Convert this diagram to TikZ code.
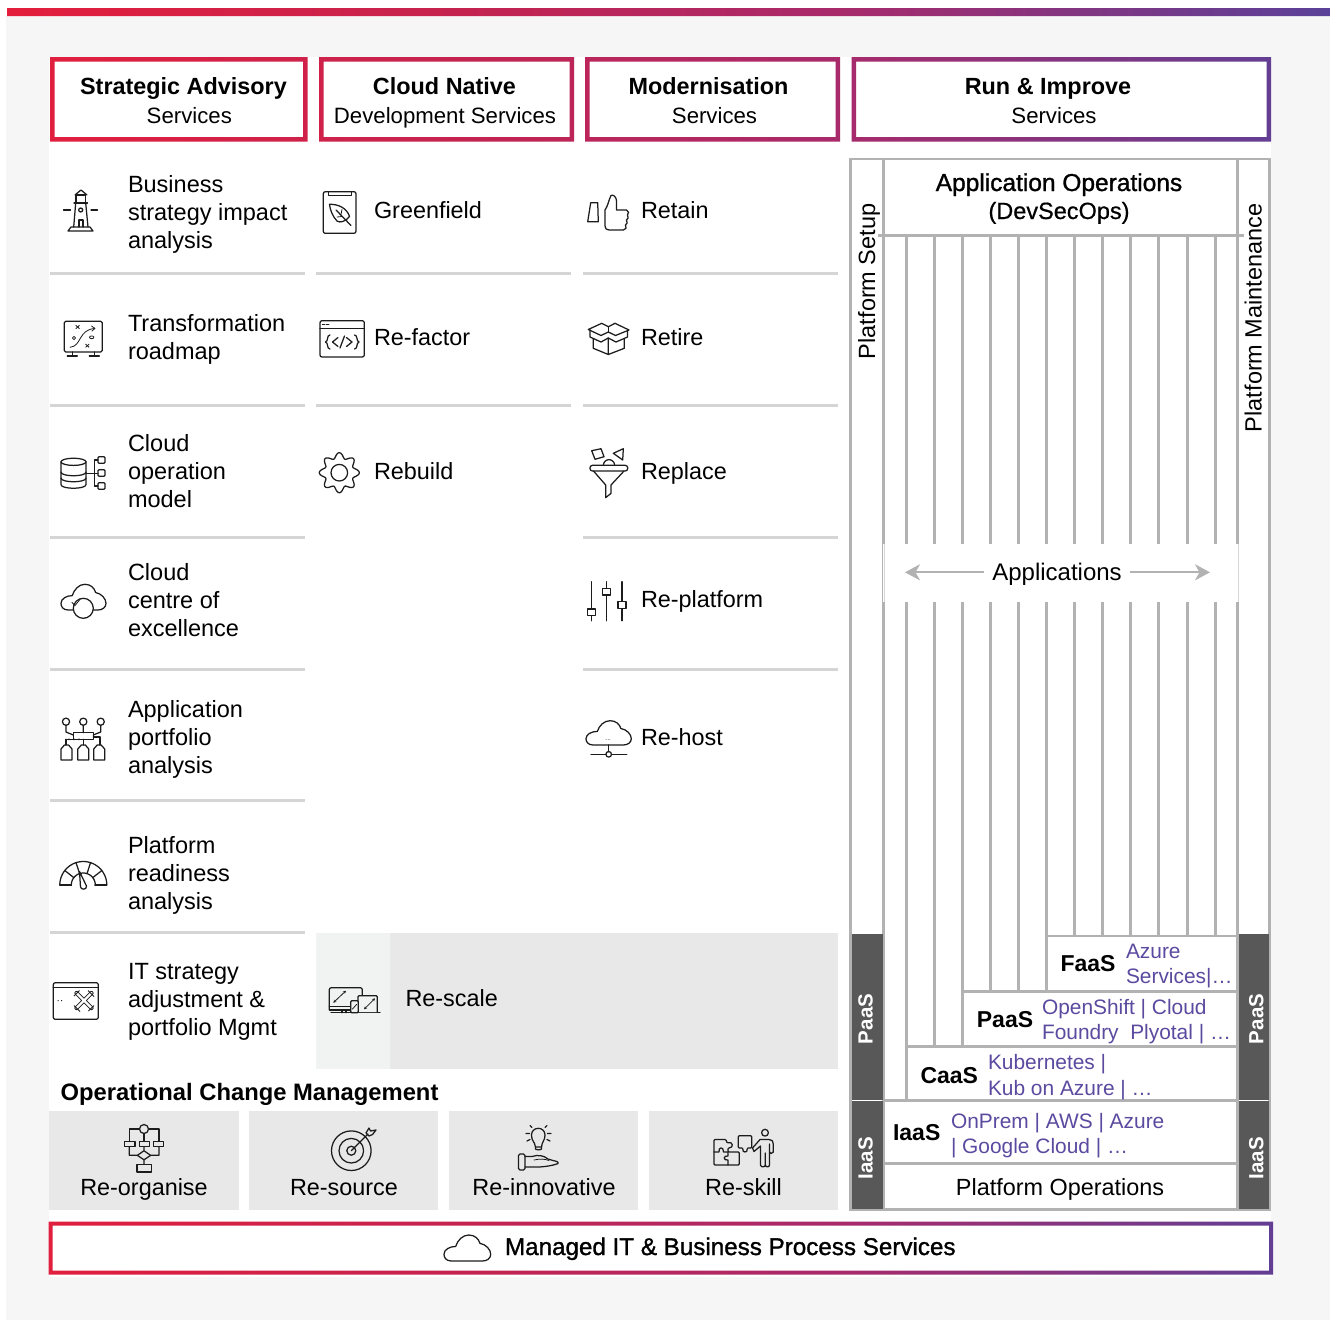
\documentclass[tikz,border=0pt]{standalone}
\usepackage{fontspec}
\setmainfont{Liberation Sans}
\newfontfamily\medfam[FakeBold=1.2]{Liberation Sans}
\newfontfamily\lightmedfam[FakeBold=0.6]{Liberation Sans}
\usetikzlibrary{arrows.meta}
\definecolor{gA}{HTML}{E41E3C}
\definecolor{gB}{HTML}{C5234F}
\definecolor{gC}{HTML}{A82A6B}
\definecolor{gD}{HTML}{5A4199}
\definecolor{pagebg}{HTML}{F6F6F6}
\definecolor{sepgrey}{HTML}{D5D5D5}
\definecolor{panelgrey}{HTML}{B2B2B2}
\definecolor{darkbox}{HTML}{585858}
\definecolor{tilegrey}{HTML}{E8E8E8}
\definecolor{tilelight}{HTML}{F1F2F2}
\definecolor{purp}{HTML}{5B4A9F}
\definecolor{icoc}{HTML}{1C1C1C}
\pgfdeclarehorizontalshading{brandgrad}{100bp}{color(0bp)=(gA); color(25bp)=(gA); color(41.9bp)=(gB); color(56.6bp)=(gC); color(75bp)=(gD); color(100bp)=(gD)}
\newcommand\cloudico[4]{\begin{scope}[shift={(#1,#2)},x=#3pt,y=-#4pt]
\draw[ico,fill=white] (.16,1) .. controls (.04,1) and (0,.86) .. (0,.74) .. controls (0,.56) and (.12,.44) .. (.25,.44) .. controls (.29,.2) and (.4,0) .. (.53,0) .. controls (.66,0) and (.74,.14) .. (.77,.32) .. controls (.9,.36) and (1,.56) .. (1,.74) .. controls (1,.9) and (.92,1) .. (.82,1) -- cycle;
\end{scope}}
\tikzset{
 ico/.style={draw=icoc,line width=1.25pt,line join=round,line cap=round},
 icothin/.style={draw=icoc,line width=.8pt,line join=round,line cap=round},
 sep/.style={draw=sepgrey,line width=3pt},
 panel/.style={draw=panelgrey,line width=2.8pt},
 tb/.style={inner sep=0pt,outer sep=0pt,anchor=base west,text=black},
 tc/.style={inner sep=0pt,outer sep=0pt,anchor=base,text=black},
 body/.style={tb,font=\fontsize{23.4}{28}\selectfont},
 multi/.style={inner sep=0pt,outer sep=0pt,anchor=west,align=left,text=black,font=\fontsize{23.5}{28}\selectfont,execute at begin node=\strut,execute at end node=\strut},
 hbold/.style={tc,font=\fontsize{23.4}{28}\bfseries\selectfont},
 hreg/.style={tc,font=\fontsize{22.2}{28}\selectfont},
 lbl/.style={tc,font=\fontsize{23.4}{28}\selectfont},
 tbold/.style={tc,font=\fontsize{23}{28}\bfseries\selectfont},
 plist/.style={tb,text=purp,font=\fontsize{20.9}{26}\selectfont},
 side/.style={tb,rotate=90,text=white,font=\fontsize{20.5}{24}\bfseries\selectfont},
 vlab/.style={tb,rotate=90,font=\fontsize{23.5}{28}\selectfont},
 arr/.style={draw=panelgrey,line width=2.2pt,-{Stealth[length=15pt,width=16pt,inset=4.5pt]}}
}
\begin{document}
\begin{tikzpicture}[x=1pt,y=-1pt]
\useasboundingbox (0,0) rectangle (1330,1320);
\fill[white] (0,0) rectangle (1330,1320);
\fill[pagebg] (6,16) rectangle (1330,1320);
\fill[white] (49,57) rectangle (1271,1277);
% gradient bar and frames
\begin{scope}[even odd rule]
\clip (7,8) rectangle (1330,16)
 (50,57) rectangle (307.5,141.5) (54.5,61.5) rectangle (303,137)
 (319,57) rectangle (574,141.5) (323.5,61.5) rectangle (569.5,137)
 (585,57) rectangle (840,141.5) (589.5,61.5) rectangle (835.5,137)
 (851.5,57) rectangle (1271,141.5) (856,61.5) rectangle (1266.5,137)
 (48.5,1221.5) rectangle (1273,1274.5) (52.5,1225.5) rectangle (1269,1270.5);
\shade[shading=brandgrad] (0,0) rectangle (1330,1320);
\end{scope}
% separators
\foreach \y in {273.3,405.5,537.3,669.3,800.3,932.3} \draw[sep] (50,\y) -- (305,\y);
\foreach \y in {273.3,405.5} \draw[sep] (316,\y) -- (571,\y);
\foreach \y in {273.3,405.5,537.3,669.3} \draw[sep] (583,\y) -- (838,\y);
% re-scale
\fill[tilegrey] (390,933) rectangle (838,1069);
\fill[tilelight] (316,933) rectangle (390,1069);
% op change tiles
\fill[tilegrey] (49,1111) rectangle (239,1210);
\fill[tilegrey] (249,1111) rectangle (438,1210);
\fill[tilegrey] (449,1111) rectangle (638,1210);
\fill[tilegrey] (649,1111) rectangle (838,1210);
% right panel
\draw[panel] (850.5,159) rectangle (1269.5,1209.5);
\draw[panel] (883.7,159) -- (883.7,1209.5);
\draw[panel] (1237.5,159) -- (1237.5,1209.5);
\draw[panel] (878,235.7) -- (1244,235.7);
\draw[panel] (906.3,235.7) -- (906.3,1100.5);
\foreach \x in {934.3,962.3} \draw[panel] (\x,235.7) -- (\x,1046.5);
\foreach \x in {990.3,1018.3,1046.3} \draw[panel] (\x,235.7) -- (\x,991.2);
\foreach \x in {1074.3,1102.3,1130.3,1158.3,1187.3,1215.3} \draw[panel] (\x,235.7) -- (\x,936);
\draw[panel] (1045,936) -- (1237.5,936);
\draw[panel] (961,991.2) -- (1237.5,991.2);
\draw[panel] (905,1046.5) -- (1237.5,1046.5);
\draw[panel] (883.7,1100.5) -- (1237.5,1100.5);
\draw[panel] (883.7,1163.3) -- (1237.5,1163.3);
\fill[white] (883,544) rectangle (1238.5,601.7);
\draw[sepgrey,line width=.4pt] (883.7,544) -- (883.7,601.7) (1238,544) -- (1238,601.7);
% dark side boxes
\fill[darkbox] (852,934) rectangle (883,1099.6);
\fill[darkbox] (852,1101.4) rectangle (883,1209);
\fill[darkbox] (1239,934) rectangle (1269,1099.6);
\fill[darkbox] (1239,1101.4) rectangle (1269,1209);
% header text
\node[hbold] (h1a) at (183.5,94) {Strategic Advisory};
\node[hreg] (h1b) at (189.3,123.3) {Services};
\node[hbold] (h2a) at (444.5,94) {Cloud Native};
\node[hreg] (h2b) at (445,123.3) {Development Services};
\node[hbold] (h3a) at (708.5,94) {Modernisation};
\node[hreg] (h3b) at (714.5,123.3) {Services};
\node[hbold] (h4a) at (1048,94) {Run \& Improve};
\node[hreg] (h4b) at (1054,123.3) {Services};
% left column
\node[multi] (s1) at (128,215.9) {Business\\strategy impact\\analysis};
\node[multi] (s2) at (128,341) {Transformation\\roadmap};
\node[multi] (s3) at (128,475.6) {Cloud\\operation\\model};
\node[multi] (s4) at (128,604.6) {Cloud\\centre of\\excellence};
\node[multi] (s5) at (128,741.6) {Application\\portfolio\\analysis};
\node[multi] (s6) at (128,877.2) {Platform\\readiness\\analysis};
\node[multi] (s7) at (128,1003.5) {IT strategy\\adjustment \&\\portfolio Mgmt};
% col 2,3
\node[body] (c1) at (374,218.5) {Greenfield};
\node[body] (c2) at (374,345) {Re-factor};
\node[body] (c3) at (374,479) {Rebuild};
\node[body] (m1) at (641,218.5) {Retain};
\node[body] (m2) at (641,345) {Retire};
\node[body] (m3) at (641,479) {Replace};
\node[body] (m4) at (641,607.3) {Re-platform};
\node[body] (m5) at (641,745) {Re-host};
\node[body] (rs) at (405.5,1006) {Re-scale};
% op change
\node[tb,font=\fontsize{23.77}{28}\bfseries\selectfont] (och) at (60.7,1100) {Operational Change Management};
\node[lbl] (o1) at (144,1195) {Re-organise};
\node[lbl] (o2) at (344,1195) {Re-source};
\node[lbl] (o3) at (544,1195) {Re-innovative};
\node[lbl] (o4) at (743.5,1195) {Re-skill};
% managed
\node[tb,font=\fontsize{24.2}{28}\medfam\selectfont] (mg) at (505,1255) {Managed IT \& Business Process Services};
% right panel text
\node[tc,font=\fontsize{24.5}{28}\medfam\selectfont] (ap1) at (1059,191) {Application Operations};
\node[tc,font=\fontsize{23.5}{28}\lightmedfam\selectfont] (ap2) at (1059,219) {(DevSecOps)};
\node[vlab] (ps) at (875,359) {Platform Setup};
\node[vlab] (pm) at (1261.7,432) {Platform Maintenance};
\node[tc,font=\fontsize{24}{28}\selectfont,outer xsep=8.7pt] (appl) at (1057,580) {Applications};
\coordinate (arrL) at (905,572.3);
\coordinate (arrR) at (1210,572.3);
\draw[arr] (appl.west |- arrL) -- (arrL);
\draw[arr] (appl.east |- arrR) -- (arrR);
\node[tbold] (fa) at (1088,971) {FaaS};
\node[plist] (fa1) at (1126,958.3) {Azure};
\node[plist] (fa2) at (1126,983.3) {Services|…};
\node[tbold] (pa) at (1005,1027) {PaaS};
\node[plist] (pa1) at (1042,1014.3) {OpenShift | Cloud};
\node[plist] (pa2) at (1042,1039.3) {Foundry\ \ Plyotal | …};
\node[tbold] (ca) at (949.3,1083) {CaaS};
\node[plist] (ca1) at (988,1069.3) {Kubernetes |};
\node[plist] (ca2) at (988,1095.3) {Kub on Azure | …};
\node[tbold] (ia) at (916.7,1140) {IaaS};
\node[plist] (ia1) at (951,1128.3) {OnPrem | AWS | Azure};
\node[plist] (ia2) at (951,1153.3) {| Google Cloud | …};
\node[lbl] (po) at (1060,1195) {Platform Operations};
\node[side] (pl) at (872.7,1044) {PaaS};
\node[side] (pr) at (1263.3,1044) {PaaS};
\node[side] (il) at (872.7,1179.3) {IaaS};
\node[side] (ir) at (1263.3,1179.3) {IaaS};
% ---------- icons ----------
% lighthouse
\draw[ico] (68,231) -- (93,231) -- (90,227) -- (71,227) -- cycle;
\draw[ico] (73.7,227) -- (75.7,203) -- (85.7,203) -- (88,227);
\draw[ico] (74,203) -- (87.5,203) (76,203) -- (76,195) -- (85.5,195) -- (85.5,203);
\draw[ico] (75,195) -- (81,190) -- (87,195);
\draw[ico] (80.7,210) circle[radius=2];
\draw[ico] (79,227) -- (79,220) -- (83,220) -- (83,227);
\draw[ico] (63.5,210) -- (70.5,210) (91,210) -- (97.5,210);
% roadmap board
\draw[ico,rounded corners=1.5pt] (64.3,321.3) rectangle (102.3,352);
\draw[ico] (72.7,352) -- (72.7,356) (67.3,356) -- (77.3,356) (94.3,352) -- (94.3,356) (89.3,356) -- (99.3,356);
\draw[icothin] (70,347.3) .. controls (82,346) and (78,330) .. (94.5,328.5);
\draw[icothin] (91.5,326) -- (95,328.4) -- (92,331);
\draw[icothin] (76,325.5) -- (79.3,328.5) (79.3,325.5) -- (76,328.5) (85.7,344.2) -- (89,347.2) (89,344.2) -- (85.7,347.2);
\draw[icothin] (74,338) circle[radius=1.6] (91.7,337.3) ellipse[x radius=2.2,y radius=1.4];
% clipboard leaf
\draw[ico,rounded corners=2pt] (323.3,191.7) rectangle (356,233.3);
\draw[ico] (328.3,191.7) -- (328.3,195.7) -- (351.7,195.7) -- (351.7,191.7);
\draw[ico] (329.5,204.3) .. controls (338,204) and (347,208) .. (349.5,216.5) .. controls (345,222) and (340,223) .. (337,221) .. controls (333,217) and (330,210) .. (329.5,204.3) -- cycle;
\draw[ico] (336,210) -- (351,225.5);
\draw[icothin] (342,216.5) -- (337,217) (341,214.5) -- (342,209.5);
% re-factor window
\draw[ico,rounded corners=2pt] (320,320.7) rectangle (364.3,357);
\draw[ico] (320,328.3) -- (364.3,328.3);
\draw[ico] (322.5,324.5) -- (324.5,324.5);
\draw[icothin] (326,324.5) -- (329,324.5);
\draw[ico] (330,335) .. controls (326.5,335) and (328.5,341.5) .. (325.5,342) .. controls (328.5,342.5) and (326.5,349) .. (330,349);
\draw[ico] (354.5,335) .. controls (358,335) and (356,341.5) .. (359,342) .. controls (356,342.5) and (358,349) .. (354.5,349);
\draw[ico] (338,337.5) -- (332.5,342) -- (338,346.5) (346.5,337.5) -- (352,342) -- (346.5,346.5) (344.5,336) -- (340,348);
% gear
\draw[ico] plot[domain=0:360,samples=161,smooth] ({339.3+(17.3+2.7*cos(8*\x))*cos(\x)},{472.7+(17.3+2.7*cos(8*\x))*sin(\x)}) -- cycle;
\draw[ico] (339.3,472.7) circle[radius=8.3];
% thumb
\draw[ico] (590.7,202.7) -- (597.7,202.7) -- (598.3,221.7) -- (587.7,221.7) -- cycle;
\draw[ico] (605,210) .. controls (608,206) and (609,199) .. (611,195.5) .. controls (613,194) and (616.5,197) .. (616.5,201) -- (616.5,210) -- (626.5,210) .. controls (629,210.5) and (629,214) .. (627.5,215) .. controls (629,217) and (628,219.5) .. (626.5,220) .. controls (628,222) and (627,224.5) .. (625.5,225) .. controls (627,227) and (626,230) .. (623.5,230) -- (609,230) .. controls (606.5,230) and (605,228.5) .. (605,226) -- cycle;
% box retire
\draw[ico] (588.3,329.5) -- (601.7,323.3) -- (608.3,326.7) -- (615,323.3) -- (629,330) -- (615.5,335.5) -- (608.3,332) -- (601,335.5) -- cycle;
\draw[ico] (608.3,326.7) -- (608.3,332) ;
\draw[ico] (590,331) -- (590,337) -- (601,342) -- (608.3,338) -- (616,342) -- (627.5,337) -- (627.5,331);
\draw[ico] (593.3,339) -- (593.3,348.3) -- (608.3,354.5) -- (624.3,348.3) -- (624.3,339) (608.3,338) -- (608.3,354.5);
% funnel
\draw[ico,rounded corners=2.5pt] (590,465.3) rectangle (627.7,471);
\draw[ico] (593.5,471) -- (605.7,485) -- (605.7,497.7) -- (611,493.3) -- (611,485) -- (624,471);
\draw[ico] (591.7,450.7) -- (601,448.7) -- (604,456.7) -- (595,459.3) -- cycle;
\draw[ico] (623.3,448.7) -- (613.3,453.3) -- (622.7,460) -- cycle;
\draw[ico] plot[domain=0:180,samples=19,smooth] ({609+5.6*cos(\x)},{465.3-5.6*sin(\x)});
% database
\draw[ico] (61,462) -- (61,484.5) .. controls (61,489.5) and (86,489.5) .. (86,484.5) -- (86,462);
\draw[ico] (73.5,461.8) ellipse[x radius=12.5,y radius=3.6];
\draw[ico] (61,472) .. controls (61,477) and (86,477) .. (86,472) (61,478) .. controls (61,483) and (86,483) .. (86,478);
\draw[ico] (86,473.3) -- (98,473.3) (94.5,460) -- (94.5,486) (94.5,460) -- (98,460) (94.5,486) -- (98,486);
\foreach \y in {460,473,486} \draw[ico,rounded corners=1pt] (98,\y-3.3) rectangle (105,\y+3.3);
% cloud + circle
\cloudico{61}{584.3}{45}{25.7}
\draw[ico,fill=white] (83.3,608.3) circle[radius=10];
\draw[icothin] (72,602.5) -- (75,605.5) -- (80,599.5);
% app portfolio
\foreach \x in {66,83.3,100.7} \draw[ico] (\x,721.7) circle[radius=3.6];
\draw[ico] (83.3,725.3) -- (83.3,732.7) (66,725.3) -- (66,732) -- (73.3,735) (100.7,725.3) -- (100.7,732) -- (93.3,735);
\draw[ico] (73.3,732.7) rectangle (93.3,739.3);
\draw[ico] (66,739.3) -- (73.3,739.3) (93.3,737) -- (100,737);
\draw[ico] (66,739.3) -- (66,745) (83.3,739.3) -- (83.3,745) (100,737) -- (100,745);
\foreach \x in {66.5,83.3,99.2} \draw[ico] (\x-5.5,760) -- (\x+5.5,760) -- (\x+5.5,749) -- (\x+2,745) -- (\x-2,745) -- (\x-5.5,749) -- cycle;
\foreach \x in {69,74,79} \fill[icoc] (\x,739.3) circle[radius=1];
% gauge
\draw[ico] plot[domain=0:180,samples=37,smooth] ({83.3+23.5*cos(\x)},{885-23.5*sin(\x)});
\draw[ico] plot[domain=-2:182,samples=37,smooth] ({83.3+12*cos(\x)},{885-12*sin(\x)});
\draw[ico] (59.8,885) -- (71.5,885) (95,885) -- (106.8,885);
\foreach \a in {38,72,108,142} \draw[ico] ({83.3+12*cos(\a)},{885-12*sin(\a)}) -- ({83.3+23.5*cos(\a)},{885-23.5*sin(\a)});
\draw[ico,fill=white] (79.5,871.5) -- (86.5,886) .. controls (87,890) and (81,890) .. (80.5,887) -- cycle;
% tools window
\draw[ico,rounded corners=2pt] (53.3,982.7) rectangle (98.3,1019.3);
\draw[ico] (53.3,987.3) -- (98.3,987.3);
\fill[icoc] (57.5,1000.2) rectangle (58.5,1001.2) (61,1000.2) rectangle (62,1001.2);
\draw[icoc,line width=4.2pt,line cap=round] (76.5,993) -- (91.5,1008) (91.5,993) -- (76.5,1008);
\draw[white,line width=2.2pt,line cap=round] (76.5,993) -- (91.5,1008) (91.5,993) -- (76.5,1008);
\draw[icoc,line width=1pt] (88,990.5) -- (94,996.5) (74,1005.5) -- (80,1011.5) (74,996) -- (79.5,990.5) (88.5,1011) -- (94,1005.5);
% devices
\draw[ico,rounded corners=2pt] (329.3,1010) -- (329.3,987.7) -- (362.3,987.7) -- (362.3,995.7);
\draw[ico] (329.3,1006.5) -- (350.7,1006.5) (329.3,1006.5) -- (329.3,1010) -- (350.7,1010);
\draw[ico] (342,1010) -- (342,1012.7) (346,1010) -- (346,1012.7) (331,1012.7) -- (380,1012.7);
\draw[ico,fill=tilelight,rounded corners=1pt] (358,1012) -- (358,995.7) -- (377.3,995.7) -- (377.3,1012);
\draw[ico,fill=tilelight,rounded corners=1pt] (350.7,1012.7) rectangle (358.3,1000.7);
\draw[icothin,{Stealth[length=3pt,width=3pt]}-{Stealth[length=3pt,width=3pt]}] (333.3,1002.7) -- (346,990.7);
\draw[icothin,{Stealth[length=3pt,width=3pt]}-{Stealth[length=3pt,width=3pt]}] (364,1009.3) -- (375,998.3);
\draw[icothin] (352.5,1009) -- (356.5,1004.5);
% sliders
\draw[ico] (591.3,581.7) -- (591.3,620.7) (606.7,581.7) -- (606.7,620.7) (622,581.7) -- (622,620.7);
\draw[ico,fill=white] (587.3,609) rectangle (595.3,615.7);
\draw[ico,fill=white] (602.7,588.3) rectangle (610.7,595);
\draw[ico,fill=white] (618,601.7) rectangle (626,608.3);
% cloud host
\cloudico{586}{720.7}{45.3}{24.3}
\draw[ico] (608.7,745) -- (608.7,751.7) (591,754.3) -- (606,754.3) (611.7,754.3) -- (626.7,754.3);
\draw[ico] (608.7,754.3) circle[radius=2.8];
\fill[gray] (605.5,739) rectangle (607,739.5) (608,739) rectangle (610,739.5);
% re-organise
\draw[ico] (144,1129) circle[radius=4.5];
\draw[ico] (139.5,1129) -- (129.3,1129) -- (129.3,1141.5) (148.5,1129) -- (159,1129) -- (159,1141.5) (144,1133.5) -- (144,1141.5);
\draw[ico] (124.7,1141.5) rectangle (135,1146.7) (139.3,1141.5) rectangle (149.3,1146.7) (153.3,1141.5) rectangle (163.7,1146.7);
\draw[ico] (129.3,1146.7) -- (129.3,1155.3) -- (137.3,1155.3) -- (144,1150.8) -- (150.7,1155.3) -- (159,1155.3) -- (159,1146.7) (144,1146.7) -- (144,1150.8) (137.3,1155.3) -- (144,1159.8) -- (150.7,1155.3) (144,1159.8) -- (144,1164.3);
\draw[ico] (137,1164.3) rectangle (151.3,1172);
% target
\draw[ico] (351.3,1150.7) circle[radius=19.8] (351.3,1150.7) circle[radius=12.3] (351.3,1150.7) circle[radius=4.5];
\draw[ico] (351.3,1150.7) -- (368,1134);
\draw[ico] (366,1133) -- (369,1128) -- (370.5,1131) -- (376,1130) -- (372.5,1134.5) -- (369,1136) -- cycle;
% bulb and hand
\draw[ico] (535.5,1147) .. controls (534.5,1141) and (531.5,1141) .. (531.5,1135) .. controls (531.5,1131) and (534.5,1128.3) .. (538.3,1128.3) .. controls (542,1128.3) and (545,1131) .. (545,1135) .. controls (545,1141) and (542,1141) .. (541.5,1147) -- cycle;
\draw[ico] (535.5,1147) -- (535.5,1149) .. controls (536,1150) and (541,1150) .. (541.5,1149) -- (541.5,1147);
\draw[ico] (526,1133.5) -- (529.5,1133.5) (547.5,1133.5) -- (551,1133.5) (530,1125.5) -- (532,1127.5) (545,1127.5) -- (547,1125.5) (527,1141) -- (530,1139.5) (547,1139.5) -- (550,1141);
\draw[ico,rounded corners=1.5pt] (518.5,1154) rectangle (525,1170);
\draw[ico] (525,1156.5) -- (532,1156.5) .. controls (538,1154.5) and (544,1155.5) .. (548,1159) -- (553,1160.5) .. controls (556,1161) and (559,1162) .. (558,1163.5) .. controls (552,1166) and (540,1167.5) .. (532,1167) -- (525,1167);
\draw[icothin] (534,1160) .. controls (540,1158.5) and (545,1159) .. (549,1160.5);
% reskill
\draw[ico,rounded corners=1pt] (714,1139.5) -- (726,1139.5) -- (727,1143) .. controls (733,1141) and (734,1148) .. (728,1148) -- (728,1152) -- (739.3,1152) -- (739.3,1165) -- (714,1165) -- cycle;
\draw[ico] (714,1152) -- (719,1152) .. controls (718,1146.5) and (724,1146.5) .. (723.5,1152) -- (728,1152) -- (728,1156) .. controls (723,1155) and (723,1161) .. (728,1160) -- (728,1165);
\draw[ico,rounded corners=1pt] (738.3,1135.7) -- (751.7,1135.7) -- (751.7,1148) -- (747,1148) .. controls (748,1153) and (742,1153) .. (743,1148) -- (738.3,1148) -- cycle;
\draw[ico] (765,1132.7) circle[radius=3.4];
\draw[ico] (752.5,1148) -- (760,1139.5) -- (769,1139.5) .. controls (772,1139.5) and (773.3,1141) .. (773.3,1144) -- (773.3,1152) (769.5,1144) -- (769.5,1165) .. controls (769.5,1167.5) and (765.5,1167.5) .. (765.3,1165) -- (765.3,1153) (765.3,1165) .. controls (765,1167.5) and (761,1167.5) .. (760.5,1165) -- (760.5,1146) -- (754,1151.5) -- (752.5,1148);
\draw[ico] (773.3,1152) -- (771,1153.5) -- (769.5,1152);
% bottom cloud
\cloudico{444}{1235}{46.7}{26}
\end{tikzpicture}
\end{document}
